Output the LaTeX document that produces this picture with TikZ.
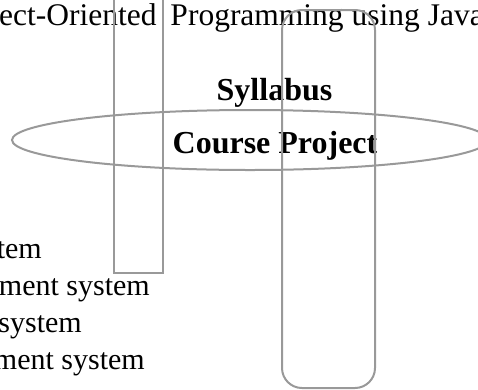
\documentclass[tikz,border=0pt]{standalone}
\usepackage{fontspec}
\setmainfont{Liberation Serif}
\definecolor{linegray}{RGB}{153,153,153}
\begin{document}
\begin{tikzpicture}[x=1pt,y=-1pt,
  shapeline/.style={draw=linegray, line width=2pt},
  titletext/.style={inner sep=0pt, font=\fontsize{31.5}{37}\selectfont},
  listtext/.style={inner sep=0pt, anchor=base east, font=\fontsize{30}{37}\selectfont},
  headtext/.style={inner sep=0pt, anchor=base, font=\fontsize{32}{38}\selectfont\bfseries}]
\useasboundingbox (0,0) rectangle (478,389);
\clip (0,0) rectangle (478,389);
% texts
\node[titletext, anchor=base west] (title) at (-1,25) {ect-Oriented \hspace{6pt}Programming using Java};
\node[headtext] (syllabus) at (274.5,100) {Syllabus};
\node[headtext] (project) at (275,153) {Course Project};
\node[listtext] (l1) at (42,258) {tem};
\node[listtext] (l2) at (150,295) {ment system};
\node[listtext] (l3) at (82,332) {system};
\node[listtext] (l4) at (145,369) {ment system};
% shapes
\draw[shapeline] (114,-5) -- (114,273) -- (163,273) -- (163,-5);
\draw[shapeline, rounded corners=20pt] (282,10) rectangle (375,388);
\draw[shapeline] (250,140) ellipse [x radius=238, y radius=30];
\end{tikzpicture}
\end{document}
